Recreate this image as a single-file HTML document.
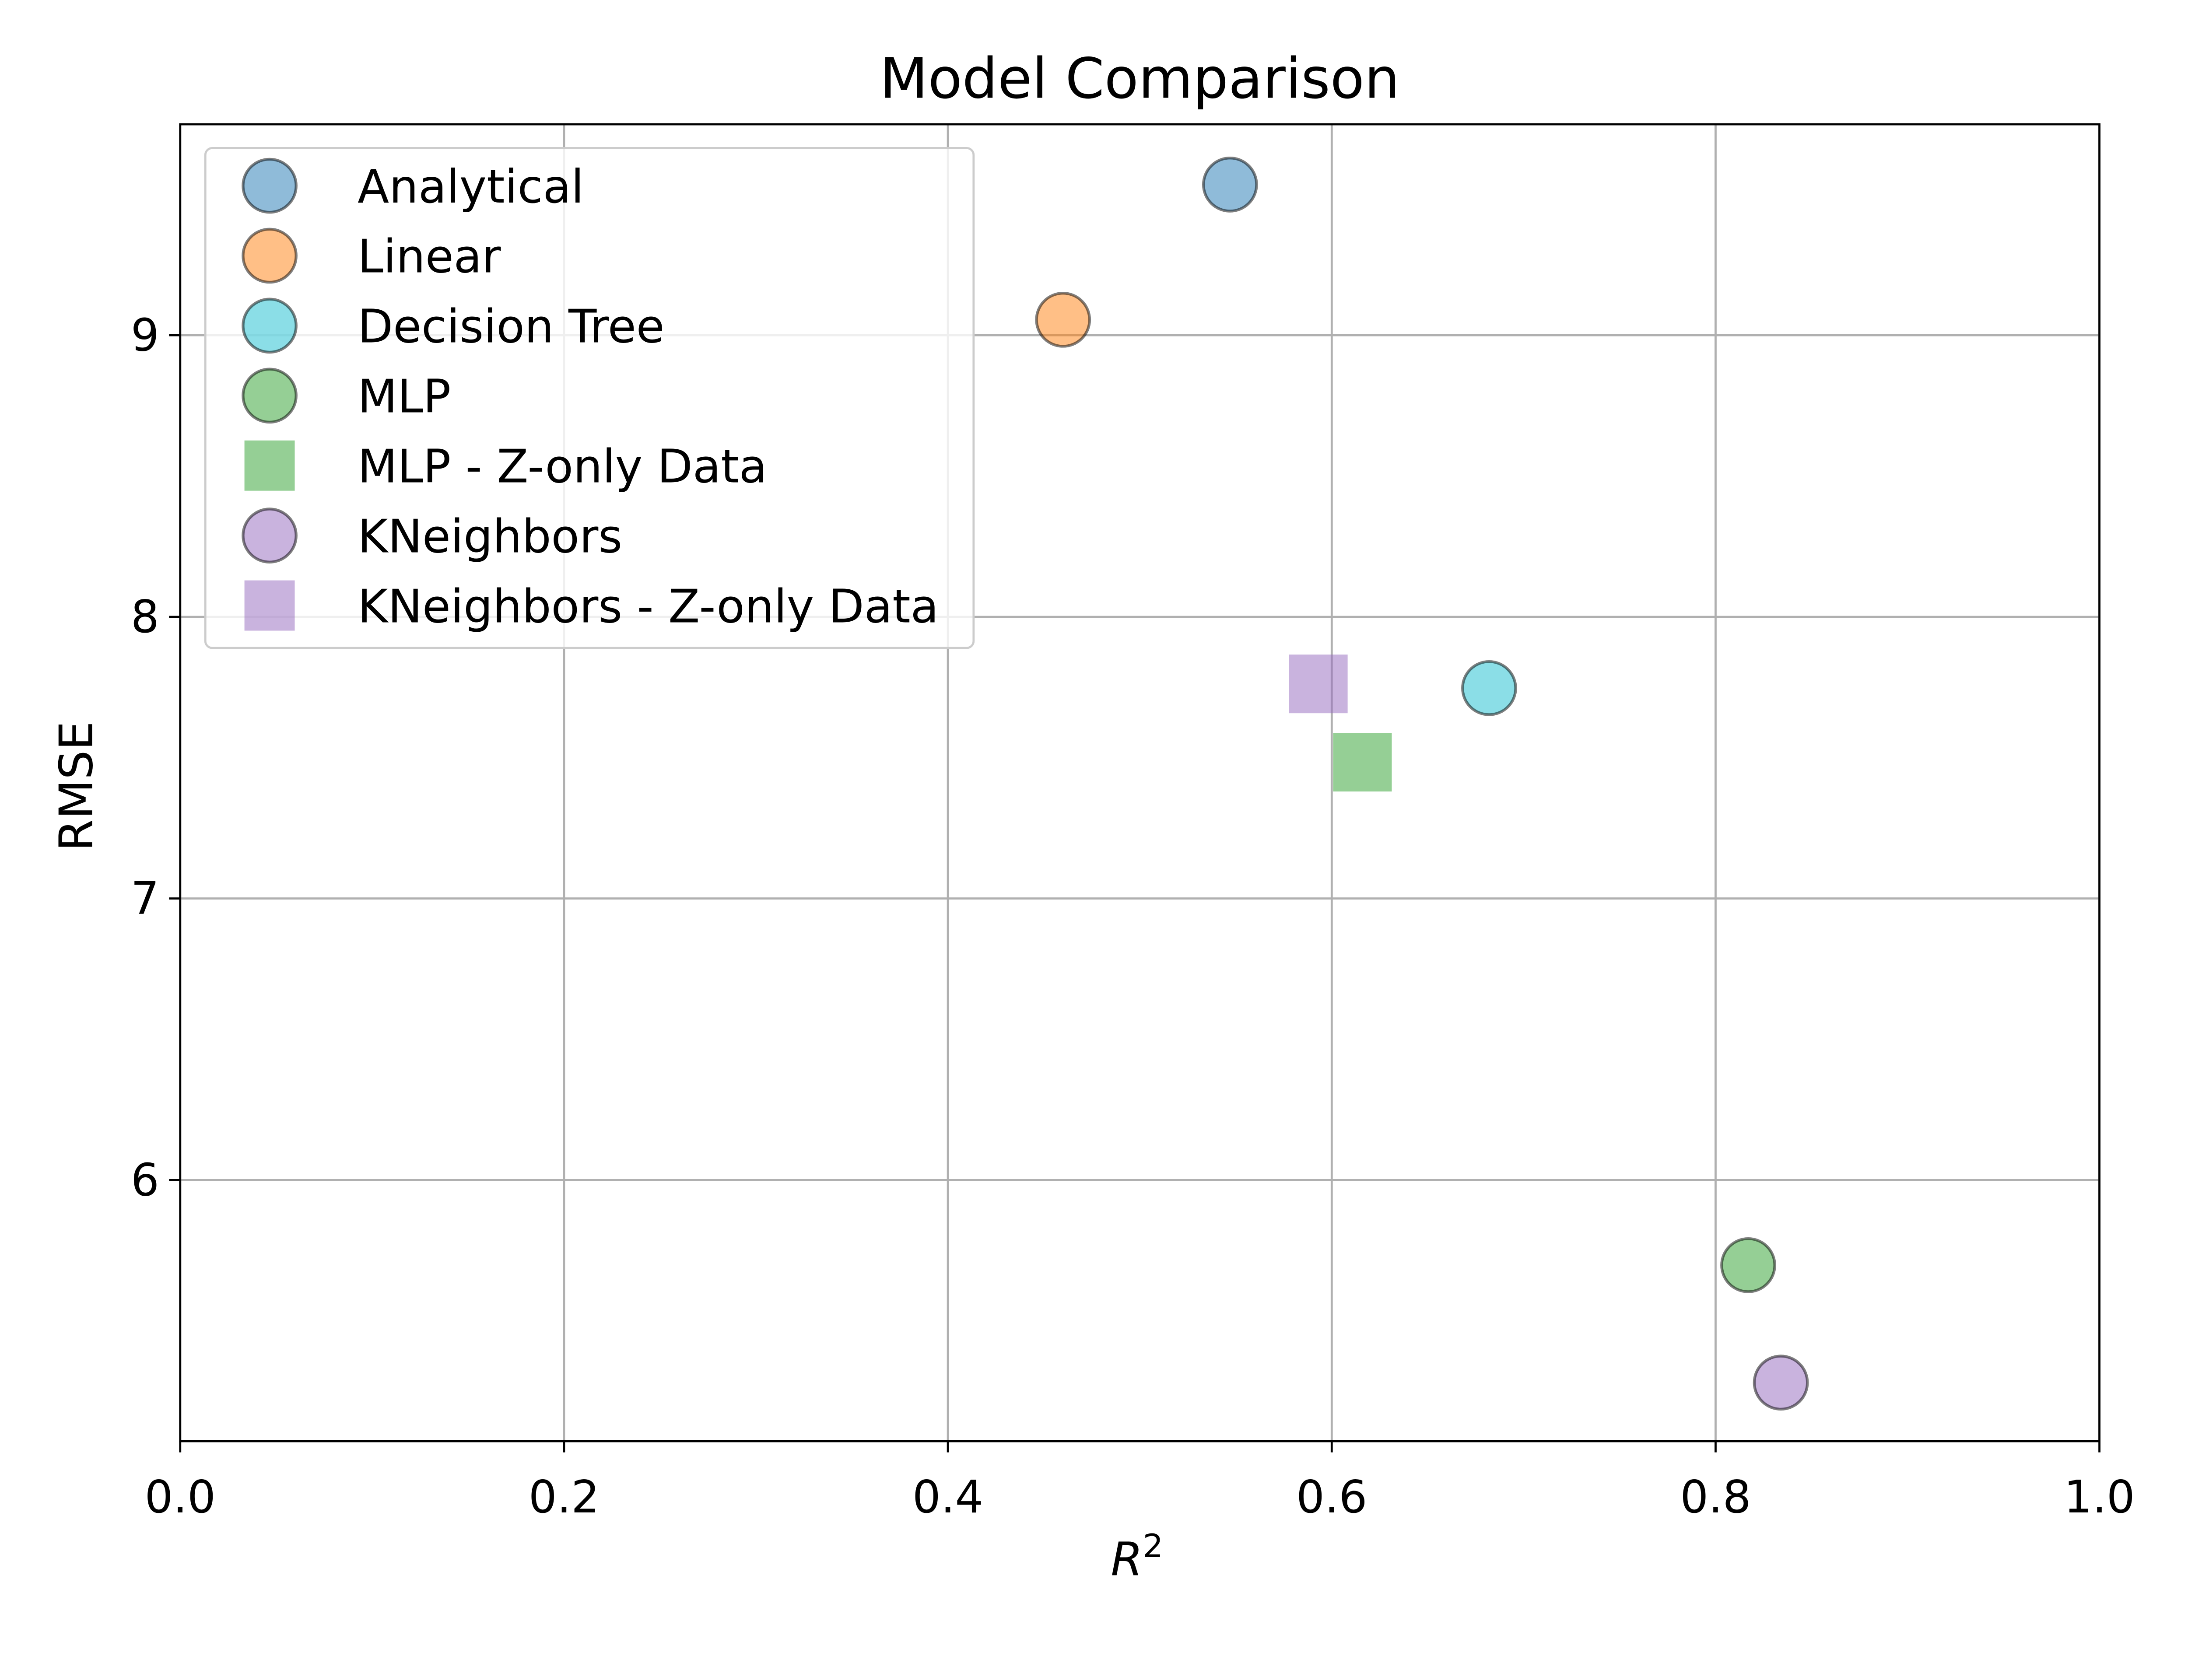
<!DOCTYPE html>
<html><head><meta charset="utf-8"><style>
html,body{margin:0;padding:0;background:#fff}
svg{display:block}
text{font-family:"DejaVu Sans","Liberation Sans",sans-serif;fill:#000}
</style></head><body>
<svg id="chart" xmlns="http://www.w3.org/2000/svg" width="5120" height="3840" viewBox="0 0 1604 1203">
<rect width="1604" height="1203" fill="#fff"/>
<g id="grid"></g>
<g id="marks"></g>
<g id="axes"></g>
<g id="legend"></g>
<text x="816" y="70" font-size="40" text-anchor="middle">Model Comparison</text>
<text x="814" y="1128" font-size="33" text-anchor="middle" font-style="italic">R<tspan font-size="23" dy="-13" font-style="normal">2</tspan></text>
<text x="66" y="563" font-size="33" text-anchor="middle" transform="rotate(-90 66 563)">RMSE</text>
</svg>
<script>
const seriesNames = ["Analytical","Linear","Decision Tree","MLP","MLP - Z-only Data","KNeighbors","KNeighbors - Z-only Data"];
const seriesR2 = [0.547,0.460,0.682,0.817,0.616,0.834,0.593];
const seriesRMSE = [9.535,9.055,7.747,5.698,7.484,5.281,7.762];
const seriesShape = ["circle","circle","circle","circle","square","circle","square"];
const seriesColor = ["#1f77b4","#ff7f0e","#17becf","#2ca02c","#2ca02c","#9467bd","#9467bd"];
const xTicks = [0.0,0.2,0.4,0.6,0.8,1.0];
const xTickLabels = ["0.0","0.2","0.4","0.6","0.8","1.0"];
const yTicks = [6,7,8,9];
const yTickLabels = ["6","7","8","9"];
const xDomain = [0,1];
const yDomain = [5.073,9.749];

const NS="http://www.w3.org/2000/svg";
const L=129,R=1503,T=89,B=1032;
function sx(v){return L+(v-xDomain[0])/(xDomain[1]-xDomain[0])*(R-L);}
function sy(v){return B-(v-yDomain[0])/(yDomain[1]-yDomain[0])*(B-T);}
function mk(tag,attrs,parent){const e=document.createElementNS(NS,tag);for(const k in attrs)e.setAttribute(k,attrs[k]);parent.appendChild(e);return e;}
const grid=document.getElementById('grid'),marks=document.getElementById('marks'),axes=document.getElementById('axes'),leg=document.getElementById('legend');

xTicks.forEach((t,i)=>{
  const g=mk('line',{x1:sx(t),x2:sx(t),y1:T,y2:B,stroke:'#b0b0b0','stroke-width':1.5},grid);
  
  
  const tk=mk('line',{x1:sx(t),x2:sx(t),y1:B,y2:B+8,stroke:'#000','stroke-width':1.5},axes);
  
  
  const tx=mk('text',{x:sx(t),y:B+51,'font-size':32,'text-anchor':'middle'},axes);
  tx.textContent=xTickLabels[i];
  
  
});
yTicks.forEach((t,i)=>{
  const g=mk('line',{x1:L,x2:R,y1:sy(t),y2:sy(t),stroke:'#b0b0b0','stroke-width':1.5},grid);
  
  
  const tk=mk('line',{x1:L-8,x2:L,y1:sy(t),y2:sy(t),stroke:'#000','stroke-width':1.5},axes);
  
  
  const tx=mk('text',{x:L-15,y:sy(t)+11,'font-size':32,'text-anchor':'end'},axes);
  tx.textContent=yTickLabels[i];
  
  
});
const frame=mk('rect',{x:L,y:T,width:R-L,height:B-T,fill:'none',stroke:'#000','stroke-width':1.5},axes);



function drawMarker(shape,color,cx,cy,parent,sq){
  if(shape==='circle'){
    return mk('circle',{cx:cx,cy:cy,r:19,fill:color,'fill-opacity':0.5,stroke:'rgba(0,0,0,0.5)','stroke-width':2},parent);
  }
  return mk('rect',{x:cx-sq/2,y:cy-sq/2,width:sq,height:sq,fill:color,'fill-opacity':0.5},parent);
}
seriesNames.forEach((n,i)=>{
  const m=drawMarker(seriesShape[i],seriesColor[i],sx(seriesR2[i]),sy(seriesRMSE[i]),marks,42);
  
  
});

const box=mk('rect',{x:147,y:106,width:550,height:358,rx:5,fill:'#fff','fill-opacity':0.8,stroke:'#cccccc','stroke-width':1.5},leg);


seriesNames.forEach((n,i)=>{
  const y=133+i*50.1;
  const m=drawMarker(seriesShape[i],seriesColor[i],193,y,leg,36);
  
  
  const t=mk('text',{x:256,y:y+12,'font-size':33},leg);
  t.textContent=n;
  
  
});
</script>
</body></html>
